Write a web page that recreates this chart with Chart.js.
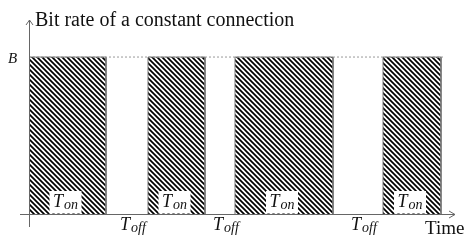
<!DOCTYPE html>
<html>
<head>
<meta charset="utf-8">
<script src="https://cdn.jsdelivr.net/npm/chart.js@4"></script>
<style>
  html, body { margin: 0; padding: 0; background: #fff; }
  #wrap { width: 474px; height: 251px; }
</style>
</head>
<body>
<div id="wrap"><canvas id="grafico"></canvas></div>
<script>
// on periods (start / end, in time units) and the constant bit rate B
const onStart = [0, 11.9, 20.6, 35.4];
const onEnd = [7.7, 17.6, 30.4, 41.2];
const rateB = 1;
const onLabel = "on";
const offLabel = "off";
const yTitle = "Bit rate of a constant connection";
const xTitle = "Time";
const bLabel = "B";

const xMax = 42.6;
const yMax = 1.236;

// hatch pattern: black "\" stripes
function hatch() {
  const p = 5;
  const c = document.createElement("canvas");
  c.width = p; c.height = p;
  const g = c.getContext("2d");
  g.fillStyle = "#fff";
  g.fillRect(0, 0, p, p);
  g.strokeStyle = "#000";
  g.lineWidth = 1.7;
  g.beginPath();
  g.moveTo(-1, -1); g.lineTo(p + 1, p + 1);
  g.moveTo(-1, p - 1); g.lineTo(1, p + 1);
  g.moveTo(p - 1, -1); g.lineTo(p + 1, 1);
  g.stroke();
  return g.createPattern(c, "repeat");
}

const ctx = document.getElementById("grafico").getContext("2d");
const pattern = hatch();

const datasets = [{
  // dotted level line at B
  data: [{ x: 0, y: rateB }, { x: onEnd[onEnd.length - 1] + 0.3, y: rateB }],
  showLine: true,
  borderColor: "#999",
  borderWidth: 1,
  borderDash: [2, 2],
  pointRadius: 0,
  fill: false
}];
for (let i = 0; i < onStart.length; i++) {
  datasets.push({
    data: [
      { x: onStart[i], y: 0 }, { x: onStart[i], y: rateB },
      { x: onEnd[i], y: rateB }, { x: onEnd[i], y: 0 }
    ],
    showLine: true,
    borderColor: "#777",
    borderWidth: 1,
    backgroundColor: pattern,
    pointRadius: 0,
    tension: 0,
    fill: "origin"
  });
}

function drawT(g, cx, cy, sub) {
  g.fillStyle = "#111";
  g.textBaseline = "alphabetic";
  g.font = "italic 18px 'Liberation Serif'";
  const wT = g.measureText("T").width;
  g.font = "italic 14px 'Liberation Serif'";
  const wS = g.measureText(sub).width;
  const x0 = cx - (wT + wS + 1) / 2;
  g.font = "italic 18px 'Liberation Serif'";
  g.textAlign = "left";
  g.fillText("T", x0, cy + 5);
  g.font = "italic 14px 'Liberation Serif'";
  g.fillText(sub, x0 + wT + 1, cy + 7);
}

const annot = {
  id: "annot",
  afterDatasetsDraw(chart) {
    const g = chart.ctx;
    const xs = chart.scales.x, ys = chart.scales.y;
    const x0 = xs.getPixelForValue(0), y0 = ys.getPixelForValue(0);
    const xEnd = xs.getPixelForValue(xMax), yTop = ys.getPixelForValue(yMax);
    g.save();
    // T_on boxes
    for (let i = 0; i < onStart.length; i++) {
      const cx = (xs.getPixelForValue(onStart[i]) + xs.getPixelForValue(onEnd[i])) / 2 - 2;
      g.fillStyle = "#fff";
      g.fillRect(cx - 16, y0 - 23, 32, 22.5);
      drawT(g, cx, y0 - 12, onLabel);
    }
    // T_off labels
    for (let i = 0; i < onStart.length - 1; i++) {
      const cx = (xs.getPixelForValue(onEnd[i]) + xs.getPixelForValue(onStart[i + 1])) / 2 + 6;
      drawT(g, cx, y0 + 11, offLabel);
    }
    // axes
    g.strokeStyle = "#666";
    g.lineWidth = 1;
    g.beginPath();
    g.moveTo(x0 + 0.5, y0 + 13); g.lineTo(x0 + 0.5, yTop);
    g.moveTo(x0 - 3, yTop + 5); g.lineTo(x0 + 0.5, yTop); g.lineTo(x0 + 4, yTop + 5);
    g.moveTo(x0 - 9, y0 + 0.5); g.lineTo(xEnd, y0 + 0.5);
    g.moveTo(xEnd - 6, y0 - 3); g.lineTo(xEnd, y0 + 0.5); g.lineTo(xEnd - 6, y0 + 4);
    g.stroke();
    // texts
    g.fillStyle = "#111";
    g.textAlign = "left";
    g.textBaseline = "alphabetic";
    g.font = "20px 'Liberation Serif'";
    g.fillText(yTitle, x0 + 6, yTop + 6);
    g.font = "19px 'Liberation Serif'";
    g.fillText(xTitle, xEnd - 30, y0 + 20);
    g.font = "italic 15px 'Liberation Serif'";
    g.fillText(bLabel, 8, ys.getPixelForValue(rateB) + 6);
    g.restore();
  }
};

new Chart(ctx, {
  type: "scatter",
  data: { datasets: datasets },
  options: {
    responsive: true,
    maintainAspectRatio: false,
    animation: false,
    layout: { padding: { left: 29, right: 19, top: 20, bottom: 37 } },
    plugins: { legend: { display: false }, tooltip: { enabled: false } },
    scales: {
      x: { type: "linear", min: 0, max: xMax, display: false },
      y: { type: "linear", min: 0, max: yMax, display: false }
    }
  },
  plugins: [annot]
});
</script>
</body>
</html>
